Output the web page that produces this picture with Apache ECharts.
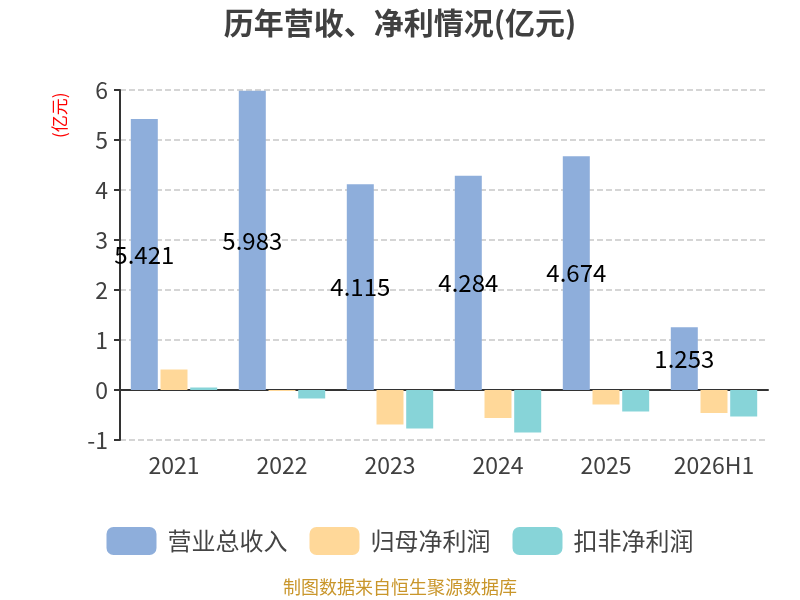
<!DOCTYPE html>
<html><head><meta charset="utf-8">
<script src="https://cdn.jsdelivr.net/npm/echarts@6/dist/echarts.min.js"></script>
<style>html,body{margin:0;padding:0;background:#fff}#c{width:800px;height:600px}</style>
</head><body><div id="c"></div>
<script>
var categories = ['2021','2022','2023','2024','2025','2026H1'];
var revenue = [5.421, 5.983, 4.115, 4.284, 4.674, 1.253];
var netProfit = [0.41, -0.02, -0.69, -0.56, -0.29, -0.46];
var deductedProfit = [0.05, -0.17, -0.77, -0.85, -0.43, -0.53];
var seriesNames = ['营业总收入','归母净利润','扣非净利润'];
var colors = ['#8eaedb','#ffd899','#87d4d8'];

var chart = echarts.init(document.getElementById('c'));
var font = '"Noto Sans CJK SC", "Noto Sans", sans-serif';
chart.setOption({
  textStyle:{fontFamily:font},
  color: colors,
  title:{text:'历年营收、净利情况(亿元)', left:'center', top:3,
    textStyle:{fontSize:30, fontWeight:'bold', color:'#404040', fontFamily:font}},
  legend:{top:522, left:'center', itemWidth:50, itemHeight:28, itemGap:22,
    textStyle:{fontSize:24, color:'#444', fontFamily:font, padding:[0,0,0,6]},
    data: seriesNames},
  graphic:[
    {type:'text', left:'center', top:578,
      style:{text:'制图数据来自恒生聚源数据库', fill:'#c9962b', font:'18px '+font}},
    {type:'text', x:51, y:138, rotation:Math.PI/2,
      style:{text:'(亿元)', fill:'red', font:'17px '+font, textAlign:'left', textVerticalAlign:'top'}}
  ],
  grid:{left:120, right:32, top:90, bottom:160},
  xAxis:{type:'category', data:categories,
    axisLine:{lineStyle:{color:'#333', width:2}},
    axisTick:{lineStyle:{color:'#333', width:2}, length:6},
    axisLabel:{fontSize:23, color:'#404040', margin:14}},
  yAxis:{type:'value', min:-1, max:6, interval:1,
    axisLine:{show:true, lineStyle:{color:'#333', width:2}},
    axisTick:{show:true, lineStyle:{color:'#333', width:2}, length:6},
    axisLabel:{fontSize:23, color:'#404040', margin:12},
    splitLine:{lineStyle:{type:'dashed', color:'#c8c8c8', width:1.5}}},
  series:[
    {name:seriesNames[0], type:'bar', data:revenue, barGap:'10%', barCategoryGap:'20%',
      label:{show:true, position:'inside', color:'#000', fontSize:24}},
    {name:seriesNames[1], type:'bar', data:netProfit},
    {name:seriesNames[2], type:'bar', data:deductedProfit}
  ]
});
</script></body></html>
